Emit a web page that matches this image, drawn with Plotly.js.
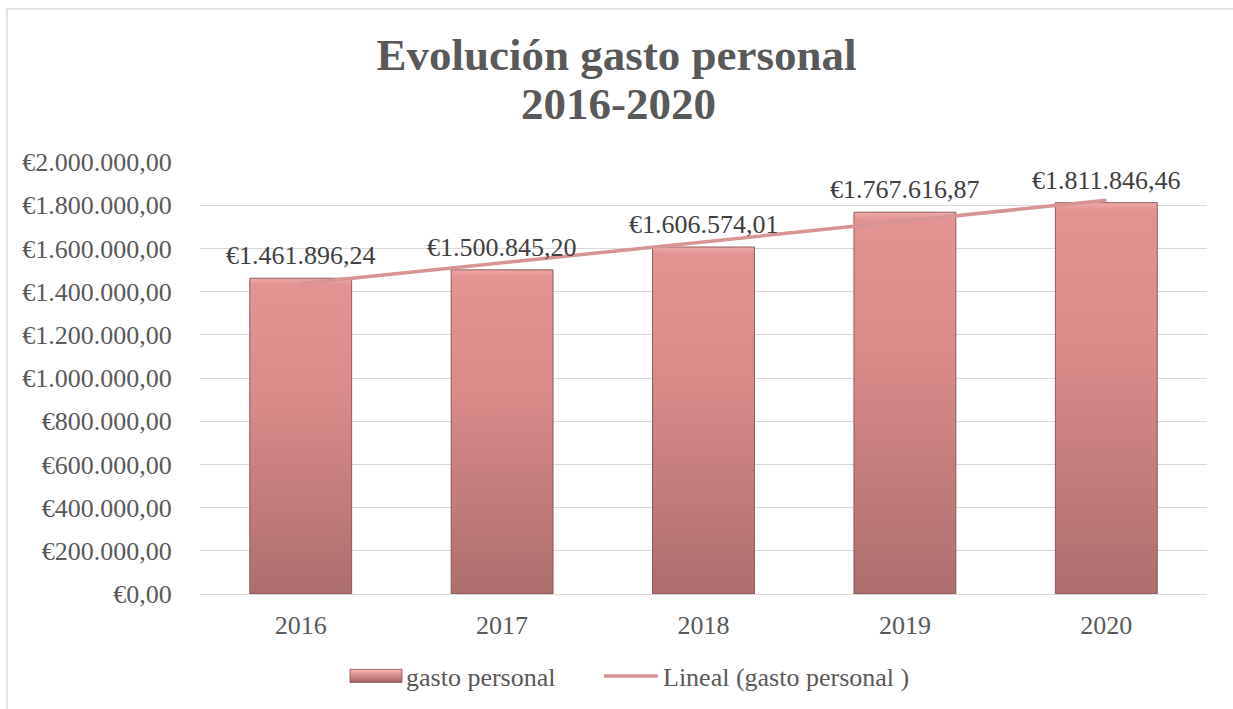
<!DOCTYPE html>
<html>
<head>
<meta charset="utf-8">
<script src="https://cdn.plot.ly/plotly-3.0.1.min.js"></script>
<style>
  html, body { margin: 0; padding: 0; background: #ffffff; }
  #chart { width: 1233px; height: 709px; }
</style>
</head>
<body>
<div id="chart"></div>
<script>
// ---- data ----
const years = ['2016', '2017', '2018', '2019', '2020'];
const gastoPersonal = [1461896.24, 1500845.20, 1606574.01, 1767616.87, 1811846.46];
// linear trendline end points
const trendYears = ['2016', '2020'];
const trendValues = [1437000, 1823000];
const yTickVals = [0, 200000, 400000, 600000, 800000, 1000000, 1200000, 1400000, 1600000, 1800000, 2000000];

const FONT = 'Liberation Serif, Times New Roman, serif';

function fmtEuro(v) {
  const s = v.toFixed(2).split('.');
  const i = s[0].replace(/\B(?=(\d{3})+(?!\d))/g, '.');
  return '\u20AC' + i + ',' + s[1];
}

const W = 1233, H = 709;
const mL = 200, mR = 26, mT = 162, mB = 115;
const pw = W - mL - mR, ph = H - mT - mB;
const px2x = x => (x - mL) / pw;
const py2y = y => (H - mB - y) / ph;

const traces = [
  {
    type: 'bar',
    name: 'gasto personal',
    x: years,
    y: gastoPersonal,
    width: 0.506,
    marker: { color: '#c98280', line: { color: 'rgba(125,75,75,0.85)', width: 1 } },
    legend: 'legend',
    hoverinfo: 'skip'
  },
  {
    type: 'scatter',
    mode: 'lines',
    name: 'Lineal (gasto personal )',
    x: trendYears,
    y: trendValues,
    line: { color: '#d69593', width: 3.5 },
    legend: 'legend2',
    hoverinfo: 'skip'
  }
];

const annotations = years.map((yr, i) => ({
  x: i, y: gastoPersonal[i], xref: 'x', yref: 'y',
  text: fmtEuro(gastoPersonal[i]),
  showarrow: false, yanchor: 'bottom', yshift: 6,
  font: { family: FONT, size: 26, color: '#404040' }
}));
annotations.push({
  xref: 'paper', yref: 'paper', x: px2x(618), y: py2y(104),
  text: '<b>2016-2020</b>', showarrow: false, xanchor: 'center', yanchor: 'middle',
  font: { family: FONT, size: 45, color: '#595959' }
});

const legendCommon = {
  orientation: 'h', yanchor: 'middle', xanchor: 'left',
  y: py2y(676),
  font: { family: FONT, size: 26, color: '#595959' },
  itemwidth: 54,
  bgcolor: 'rgba(0,0,0,0)', borderwidth: 0
};

const layout = {
  width: W, height: H,
  margin: { l: mL, r: mR, t: mT, b: mB, pad: 0, autoexpand: false },
  paper_bgcolor: '#ffffff', plot_bgcolor: '#ffffff',
  font: { family: FONT, color: '#595959' },
  title: {
    text: '<b>Evolución gasto personal</b>',
    x: 0.5, xref: 'container', xanchor: 'center',
    y: 1 - 54 / H, yref: 'container', yanchor: 'middle',
    font: { family: FONT, size: 45, color: '#595959' },
    automargin: false
  },
  xaxis: {
    type: 'category',
    categoryorder: 'array', categoryarray: years,
    range: [-0.5, 4.5], autorange: false,
    showgrid: false, zeroline: false, showline: false,
    ticks: 'outside', ticklen: 8, tickcolor: 'rgba(0,0,0,0)',
    tickfont: { family: FONT, size: 26, color: '#595959' },
    fixedrange: true
  },
  yaxis: {
    range: [0, 2000000], autorange: false,
    tickmode: 'array',
    tickvals: yTickVals,
    ticktext: yTickVals.map(fmtEuro),
    showgrid: true, gridcolor: '#d9d9d9', gridwidth: 1,
    zeroline: true, zerolinecolor: '#d9d9d9', zerolinewidth: 1,
    showline: false,
    ticks: 'outside', ticklen: 22, tickcolor: 'rgba(0,0,0,0)',
    tickfont: { family: FONT, size: 26, color: '#595959' },
    fixedrange: true
  },
  showlegend: true,
  legend: Object.assign({}, legendCommon, { x: px2x(342) }),
  legend2: Object.assign({}, legendCommon, { x: px2x(599) }),
  shapes: [
    {
      type: 'rect', xref: 'paper', yref: 'paper', layer: 'below',
      x0: px2x(7), x1: px2x(1260), y0: py2y(9), y1: py2y(730),
      line: { color: '#d9d9d9', width: 1.5 }, fillcolor: 'rgba(0,0,0,0)'
    }
  ],
  annotations: annotations,
  bargap: 0.49
};

const gdEl = document.getElementById('chart');

function applyStyles(gd) {
  const svg = gd.querySelector('.main-svg');
  if (!svg) return;
  const ns = 'http://www.w3.org/2000/svg';
  let defs = svg.querySelector('defs');
  if (!defs) { defs = document.createElementNS(ns, 'defs'); svg.insertBefore(defs, svg.firstChild); }
  function addGrad(id, stops) {
    if (svg.querySelector('#' + id)) return;
    const grad = document.createElementNS(ns, 'linearGradient');
    grad.setAttribute('id', id);
    grad.setAttribute('x1', '0'); grad.setAttribute('y1', '0');
    grad.setAttribute('x2', '0'); grad.setAttribute('y2', '1');
    stops.forEach(([o, c]) => {
      const st = document.createElementNS(ns, 'stop');
      st.setAttribute('offset', o); st.setAttribute('stop-color', c);
      grad.appendChild(st);
    });
    defs.appendChild(grad);
  }
  addGrad('barGrad', [['0%', '#eeaaa8'], ['2%', '#e39391'], ['35%', '#db8c8a'], ['100%', '#ad6e6e']]);
  addGrad('legGrad', [['0%', '#f3b8b6'], ['30%', '#e39a98'], ['70%', '#c07c7b'], ['100%', '#9a6262']]);
  gd.querySelectorAll('.barlayer .point path').forEach(p => { p.style.fill = 'url(#barGrad)'; });
  gd.querySelectorAll('.legendpoints path').forEach(p => {
    if (p.classList.contains('legendbar') || (p.getAttribute('d') || '').indexOf('M6,6H-6V-6H6Z') === 0) {
      p.setAttribute('d', 'M-24,6.5H28V-6.5H-24Z');
      p.style.fill = 'url(#legGrad)';
      p.style.stroke = '#8a5656';
      p.style.strokeWidth = '1px';
    }
  });
}

Plotly.newPlot(gdEl, traces, layout, { displayModeBar: false, staticPlot: true }).then(gd => {
  applyStyles(gd);
  gd.on('plotly_afterplot', () => applyStyles(gd));
  setTimeout(() => applyStyles(gd), 50);
});
</script>
</body>
</html>
